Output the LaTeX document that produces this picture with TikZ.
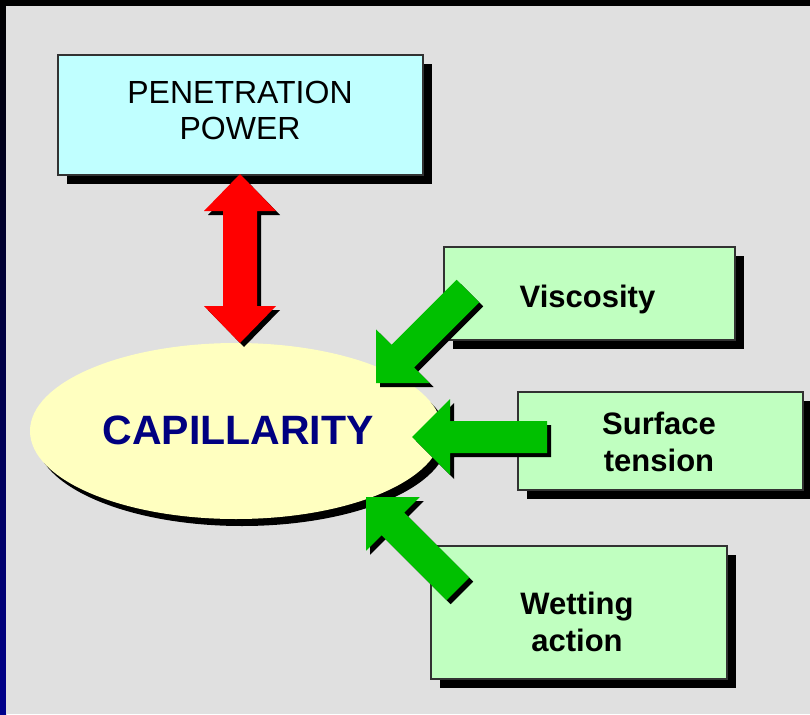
\documentclass[tikz,border=0pt]{standalone}
\usepackage{fontspec}
\setmainfont{Liberation Sans}
\usetikzlibrary{shapes.geometric,shadows,calc}
\definecolor{panel}{RGB}{224,224,224}
\definecolor{stripnavy}{RGB}{0,0,140}
\definecolor{cyanbox}{RGB}{192,255,255}
\definecolor{greenbox}{RGB}{192,255,192}
\definecolor{ellfill}{RGB}{255,255,192}
\definecolor{arrgreen}{RGB}{0,192,0}
\definecolor{arrred}{RGB}{255,0,0}
\definecolor{capnavy}{RGB}{0,0,128}
\definecolor{boxline}{RGB}{50,50,50}
\newcommand\blockarrow[3]{%
  \begin{scope}[shift={(#1)},xshift=4pt,yshift=-4pt,rotate=#2]
    \fill[black] (0,0) -- (38,38) -- (38,16) -- (#3,16) -- (#3,-16) -- (38,-16) -- (38,-38) -- cycle;
  \end{scope}
  \begin{scope}[shift={(#1)},rotate=#2]
    \fill[arrgreen] (0,0) -- (38,38) -- (38,16) -- (#3,16) -- (#3,-16) -- (38,-16) -- (38,-38) -- cycle;
  \end{scope}}
\begin{document}
\begin{tikzpicture}[x=1pt,y=-1pt,
  boxnode/.style={rectangle, draw=boxline, line width=1.2pt, inner sep=0pt,
    drop shadow={shadow xshift=9pt, shadow yshift=-9pt, fill=black, opacity=1}},
  penlabel/.style={inner sep=0pt, align=center, font=\fontsize{32}{36}\selectfont},
  greenlabel/.style={inner sep=0pt, align=center, font=\fontsize{31}{37.5}\selectfont\bfseries}]
\useasboundingbox (0,0) rectangle (810,714);
\fill[black] (0,0) rectangle (810,714);
\shade[top color=black, bottom color=stripnavy] (0,0) rectangle (6,714);
\fill[panel] (6,6) rectangle (810,714);
% boxes
\node[boxnode, fill=cyanbox, minimum width=365pt, minimum height=120pt] (pen) at (240.5,115) {};
\node[boxnode, fill=greenbox, minimum width=291pt, minimum height=93pt] (visc) at (589.5,293.5) {};
\node[boxnode, fill=greenbox, minimum width=285pt, minimum height=98pt] (surf) at (660.5,441) {};
\node[boxnode, fill=greenbox, minimum width=296pt, minimum height=133pt] (wet) at (579,612.5) {};
% ellipse
\node[ellipse, fill=ellfill, inner sep=0pt, minimum width=412pt, minimum height=176pt,
  drop shadow={shadow xshift=6pt, shadow yshift=-7pt, fill=black, opacity=1}] (cap) at (236,431) {};
% labels
\node[penlabel] (pent) at (240,110) {PENETRATION\\POWER};
\node[greenlabel, anchor=base] (visct) at (587.5,307) {Viscosity};
\node[greenlabel] (surft) at (659,442) {Surface\\tension};
\node[greenlabel] (wett) at (577,622) {Wetting\\action};
\node[inner sep=0pt, text=capnavy, font=\fontsize{41}{48}\selectfont\bfseries] (capt) at (238,430) {CAPILLARITY};
% red double arrow
\coordinate (rt) at (240,174);
\begin{scope}[shift={(rt)},xshift=4pt,yshift=-4pt]
  \fill[black] (0,0) -- (36,37) -- (17,37) -- (17,132) -- (36,132) -- (0,169) -- (-36,132) -- (-17,132) -- (-17,37) -- (-36,37) -- cycle;
\end{scope}
\begin{scope}[shift={(rt)}]
  \fill[arrred] (0,0) -- (36,37) -- (17,37) -- (17,132) -- (36,132) -- (0,169) -- (-36,132) -- (-17,132) -- (-17,37) -- (-36,37) -- cycle;
\end{scope}
% green arrows
\coordinate (tv) at (376,383);
\coordinate (ts) at (412,437);
\coordinate (tw) at (366,497);
\blockarrow{tv}{45}{130}
\blockarrow{ts}{0}{135}
\blockarrow{tw}{-45}{130}
\end{tikzpicture}
\end{document}
